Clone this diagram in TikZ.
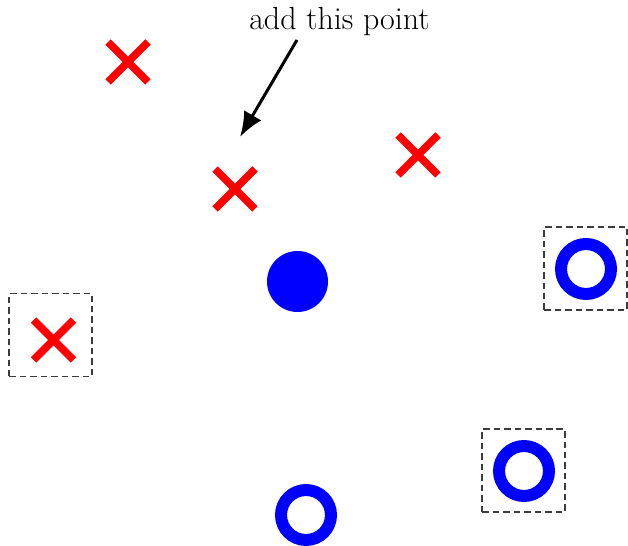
\documentclass[tikz,border=0pt]{standalone}
\usepackage{tikz}
\usetikzlibrary{arrows.meta, shapes.misc}
\definecolor{ptRed}{RGB}{255,0,0}
\definecolor{ptBlue}{RGB}{0,0,255}
\definecolor{boxGray}{RGB}{60,60,60}

\begin{document}
\begin{tikzpicture}[
    x=0.02cm, y=-0.02cm,
    negmark/.style ={cross out, draw=ptRed, line width=0.15cm, minimum size=0.8cm, inner sep=0pt, outer sep=0pt},
    posmark/.style ={circle, draw=ptBlue, line width=0.24cm, minimum size=1.0cm, inner sep=0pt},
    query/.style   ={circle, fill=ptBlue, minimum size=1.22cm, inner sep=0pt},
    svbox/.style   ={rectangle, draw=boxGray, dash pattern=on 0.13cm off 0.08cm, line width=0.035cm, minimum size=1.66cm, inner sep=0pt},
    note/.style    ={font=\fontsize{18.2}{22}\selectfont, inner sep=0pt, anchor=base},
    arrow/.style   ={-{Latex[length=0.5cm, width=0.4cm]}, line width=0.06cm}
]
\useasboundingbox (0,0) rectangle (628,546);
\node[negmark] (n1) at (128,62) {};
\node[negmark] (n2) at (235,189) {};
\node[negmark] (n3) at (418,155) {};
\node[negmark] (n4) at (53.5,340) {};
\node[query] (q) at (297.5,281.5) {};
\node[posmark] (p1) at (586,269) {};
\node[posmark] (p2) at (524,471) {};
\node[posmark] (p3) at (306,515) {};
\node[svbox] (b1) at (50.8,335) {};
\node[svbox] (b2) at (585.5,268.5) {};
\node[svbox] (b3) at (523.5,470.5) {};
\node[note] (lbl) at (339.5,29.3) {add this point};
\coordinate (tail) at (297,40);
\coordinate (tip) at (240,137);
\draw[arrow] (tail) -- (tip);
\end{tikzpicture}
\end{document}
